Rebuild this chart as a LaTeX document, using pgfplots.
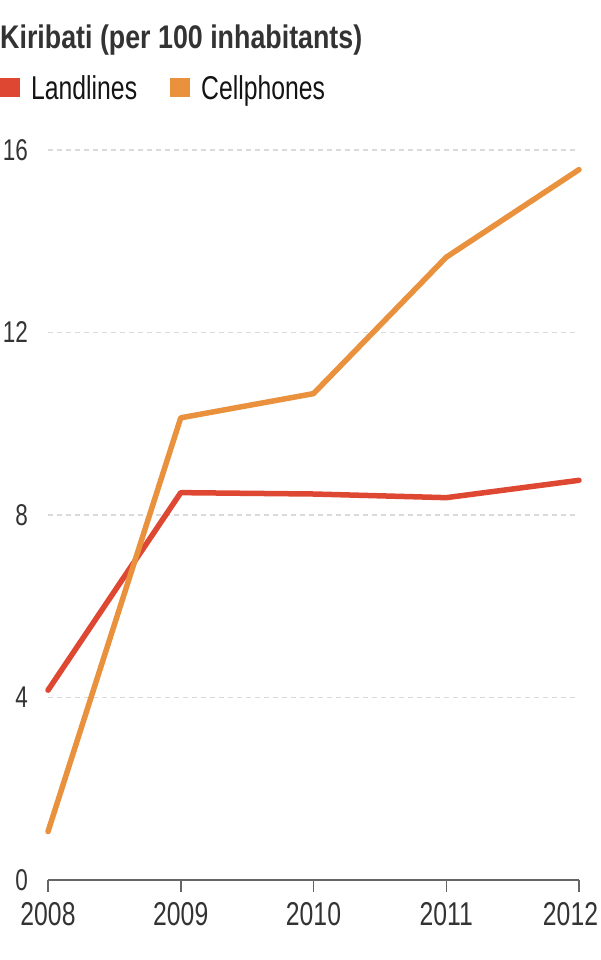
\documentclass[border=0pt]{standalone}
\usepackage{fontspec}
\setmainfont{Liberation Sans}[FakeStretch=0.75]
\newfontfamily\titlefont{Liberation Sans}[FakeStretch=0.82]
\usepackage{pgfplots}
\pgfplotsset{compat=1.18}
\definecolor{landc}{RGB}{222,72,50}
\definecolor{cellc}{RGB}{233,145,60}
\definecolor{txt}{RGB}{51,51,51}
\definecolor{legtxt}{RGB}{20,20,20}
\definecolor{gridc}{RGB}{218,218,218}
\definecolor{axc}{RGB}{102,102,102}
\begin{document}
\begin{tikzpicture}[x=1pt,y=1pt]
\path[use as bounding box] (0,0) rectangle (600,960);
\node[anchor=base west, inner sep=0pt, text=txt, font=\titlefont\fontsize{32.7}{38}\selectfont\bfseries] at (0,911.5) {Kiribati (per 100 inhabitants)};
\begin{axis}[
  at={(48pt,80pt)}, anchor=south west,
  scale only axis, width=531pt, height=730pt,
  xmin=2008, xmax=2012, ymin=0, ymax=16,
  clip=false,
  axis x line*=bottom, axis y line*=left,
  x axis line style={axc, line width=1.5pt},
  y axis line style={draw=none},
  xtick={2008,2009,2010,2011,2012},
  xticklabels={2008,2009,2010,2011,\hspace*{-17pt}2012},
  ytick={0,4,8,12,16},
  tick align=outside,
  major tick length=12pt,
  xtick style={axc, line width=1.5pt},
  ytick style={draw=none},
  ymajorgrids,
  major grid style={gridc, line width=1.5pt, dash pattern=on 5pt off 4pt},
  /pgf/number format/assume math mode=true,
  /pgf/number format/1000 sep={},
  xticklabel style={font=\fontsize{33}{38}\selectfont, text=txt, anchor=north, inner sep=0pt, yshift=-10pt},
  yticklabel style={font=\fontsize{30}{36}\selectfont, text=txt, anchor=east, inner sep=0pt, xshift=-8pt},
  legend style={at={(0,1)}, anchor=south west, xshift=-48pt, yshift=50.7pt,
    draw=none, fill=none, inner sep=0pt,
    nodes={inner sep=0pt, text=legtxt, text depth=0pt, font=\fontsize{33}{38}\selectfont},
    /tikz/every odd column/.style={column sep=11pt},
    /tikz/every even column/.style={column sep=33pt}},
  legend columns=2,
  legend image code/.code={\fill[#1, draw=none] (0pt,-10pt) rectangle (20pt,9.3pt);},
]
\addplot[landc, line width=5.5pt, line cap=round, line join=round] coordinates {
(2008,4.16) (2009,8.49) (2010,8.46) (2011,8.38) (2012,8.76)};
\addlegendentry{Landlines}
\addplot[cellc, line width=5.5pt, line cap=round, line join=round] coordinates {
(2008,1.06) (2009,10.13) (2010,10.66) (2011,13.65) (2012,15.57)};
\addlegendentry{Cellphones}
\end{axis}
\end{tikzpicture}
\end{document}
